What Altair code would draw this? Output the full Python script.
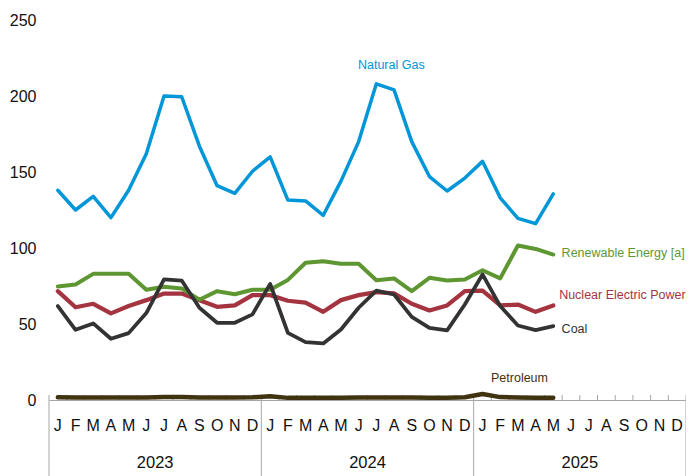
import altair as alt
import pandas as pd

FONT = "Liberation Sans, Arial, sans-serif"

month_letters = ["J", "F", "M", "A", "M", "J", "J", "A", "S", "O", "N", "D"]
years = ["2023", "2024", "2025"]

natural_gas = [138, 125, 134, 120, 138, 162, 200, 199.5, 167, 141, 136, 150.5,
               160, 131.5, 131, 121.5, 144, 170, 208, 204, 170, 147, 137.5, 146,
               157, 133, 119.5, 116, 135.6]
renewable = [74.7, 76, 83, 83, 83, 72.5, 74.5, 73.4, 66, 71.6, 69.6, 72.5,
             72.5, 79, 90.3, 91.3, 89.6, 89.6, 78.8, 80, 71.6, 80.4, 78.6, 79.3,
             85.4, 80, 101.6, 99.4, 95.7]
nuclear = [71.6, 61, 63.3, 57, 61.8, 65.7, 70, 70, 65.7, 61.3, 62.2, 69,
           69, 65.3, 64, 58, 65.7, 69, 71, 70.1, 63.3, 58.9, 62.2, 71.6,
           72, 62.2, 62.8, 58, 62.2]
coal = [61.8, 46.2, 50.4, 40.3, 44, 57.2, 79.3, 78.6, 60.7, 50.8, 50.8, 56.3,
        76.4, 44.2, 38.1, 37.2, 46.4, 60.7, 72, 69.4, 54.7, 47.5, 45.8, 62.8,
        82.6, 61.8, 49, 46, 48.6]
petroleum = [1.8, 1.7, 1.7, 1.6, 1.6, 1.7, 1.9, 1.9, 1.7, 1.6, 1.6, 1.8,
             2.5, 1.4, 1.4, 1.4, 1.5, 1.6, 1.7, 1.7, 1.6, 1.5, 1.5, 1.8,
             4.0, 1.9, 1.7, 1.5, 1.5]

series_names = ["Petroleum", "Nuclear Electric Power", "Renewable Energy [a]", "Coal", "Natural Gas"]
series_values = [petroleum, nuclear, renewable, coal, natural_gas]
series_colors = ["#3f3311", "#a4343f", "#5e9732", "#333333", "#0096d7"]
series_widths = [4.5, 3.5, 3.5, 3.5, 3.5]

# label anchors (month-axis units, value units)
label_names = ["Natural Gas", "Renewable Energy [a]", "Nuclear Electric Power", "Coal", "Petroleum"]
label_x = [17.46, 28.97, 28.83, 28.97, 24.98]
label_y = [220.4, 96.7, 69.0, 46.7, 14.5]

rows = []
for name, vals in zip(series_names, series_values):
    for i, v in enumerate(vals):
        rows.append({"series": name, "m": i + 0.5, "value": v})
df = pd.DataFrame(rows)

months_df = pd.DataFrame({
    "m": [y * 12 + i + 0.5 for y in range(len(years)) for i in range(12)],
    "letter": [month_letters[i] for y in range(len(years)) for i in range(12)],
})
years_df = pd.DataFrame({"m": [i * 12 + 6 for i in range(len(years))], "year": years})
ticks_df = pd.DataFrame({"m": list(range(0, 37))})
sep_df = pd.DataFrame({"m": [0, 12, 24, 36]})
labels_df = pd.DataFrame({"series": label_names, "m": label_x, "value": label_y})

xscale = alt.Scale(domain=[0, 36], nice=False, zero=False)
yscale = alt.Scale(domain=[0, 250], nice=False)
cscale = alt.Scale(domain=series_names, range=series_colors)

lines = alt.Chart(df).mark_line(strokeJoin="round", strokeCap="round").encode(
    x=alt.X("m:Q", scale=xscale,
            axis=alt.Axis(labels=False, ticks=False, grid=False, title=None,
                          domainColor="#a6a6a6", domainWidth=1)),
    y=alt.Y("value:Q", scale=yscale,
            axis=alt.Axis(values=[0, 50, 100, 150, 200, 250], ticks=False, domain=False,
                          grid=False, title=None, labelPadding=13, labelFontSize=16,
                          labelFont=FONT, labelColor="#111111")),
    color=alt.Color("series:N", scale=cscale, legend=None),
    strokeWidth=alt.StrokeWidth("series:N", scale=alt.Scale(domain=series_names, range=series_widths), legend=None),
    order=alt.Order("m:Q"),
)

ticks = alt.Chart(ticks_df).mark_rule(color="#a6a6a6", strokeWidth=1).encode(
    x=alt.X("m:Q", scale=xscale), y=alt.value(375), y2=alt.value(380))

seps = alt.Chart(sep_df).mark_rule(color="#a6a6a6", strokeWidth=1).encode(
    x=alt.X("m:Q", scale=xscale), y=alt.value(380), y2=alt.value(470))

months = alt.Chart(months_df).mark_text(font=FONT, fontSize=16, baseline="middle", color="#111111").encode(
    x=alt.X("m:Q", scale=xscale), y=alt.value(406), text="letter:N")

year_text = alt.Chart(years_df).mark_text(font=FONT, fontSize=16.5, baseline="middle", color="#111111").encode(
    x=alt.X("m:Q", scale=xscale), y=alt.value(443), text="year:N")

labels = alt.Chart(labels_df).mark_text(font=FONT, fontSize=12.5, align="left", baseline="middle").encode(
    x=alt.X("m:Q", scale=xscale), y=alt.Y("value:Q", scale=yscale), text="series:N",
    color=alt.Color("series:N", scale=cscale, legend=None))

chart = alt.layer(seps, ticks, lines, months, year_text, labels).properties(
    width=637, height=380,
    padding={"left": 41, "top": 12, "right": 0, "bottom": 76},
    autosize=alt.AutoSizeParams(type="none"),
).configure_view(stroke=None)

chart.save("out.html", embed_options={"renderer": "svg", "actions": False})
